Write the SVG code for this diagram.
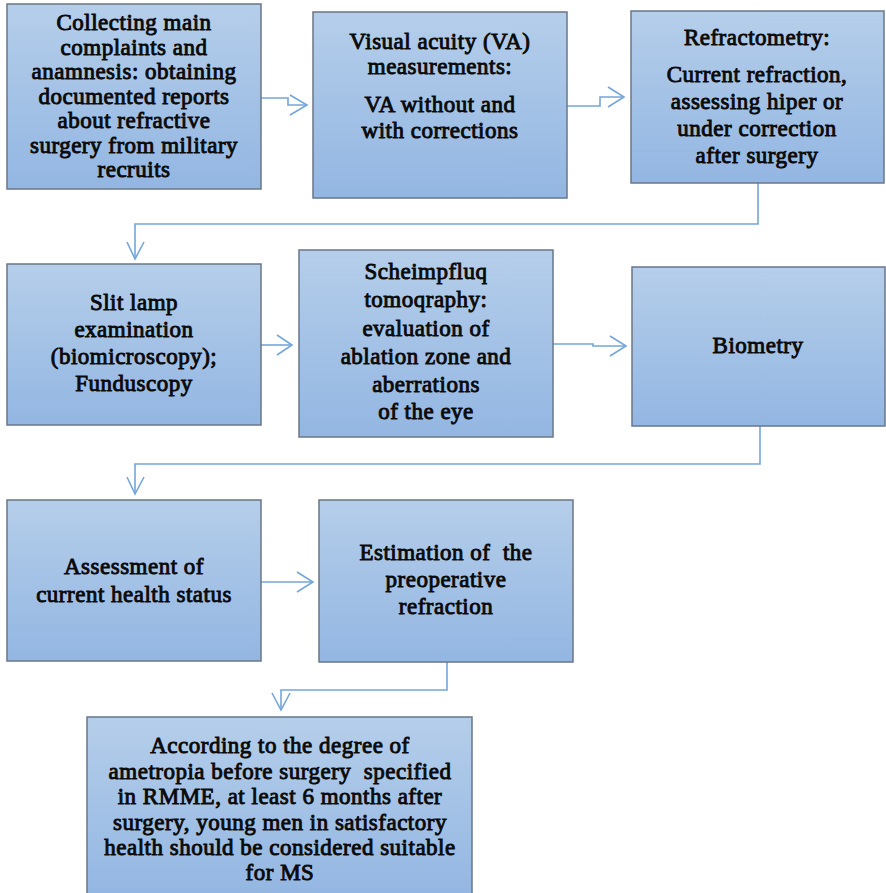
<svg xmlns="http://www.w3.org/2000/svg" width="886" height="893" viewBox="0 0 886 893">
<defs>
<linearGradient id="g" x1="0" y1="0" x2="0" y2="1">
<stop offset="0" stop-color="#b5ceea"/>
<stop offset="1" stop-color="#93b6e2"/>
</linearGradient>
<style>
.box{fill:url(#g);stroke:#6a7788;stroke-width:1.5}
.t{font-family:'Liberation Serif',serif;font-weight:400;font-size:23px;letter-spacing:0.5px;fill:#0a0a0a;stroke:#0a0a0a;stroke-width:0.9;text-anchor:middle;white-space:pre}
.c{fill:none;stroke:#74a6db;stroke-width:1.6}
</style>
</defs>
<rect width="886" height="893" fill="#fff"/>
<g id="connectors">
<polyline class="c" points="261,98 288,98 288,105 306,105"/>
<polyline class="c" points="290,95 307,105 290,115"/>
<polyline class="c" points="567,106 600,106 600,97 623,97"/>
<polyline class="c" points="608,87 624,97 608,107"/>
<polyline class="c" points="758,182 758,224 135,224 135,258"/>
<polyline class="c" points="127,242 135,259 144,242"/>
<polyline class="c" points="261,345 291,345"/>
<polyline class="c" points="277,335 292,345 277,355"/>
<polyline class="c" points="553,344 593,344 593,346 625,346"/>
<polyline class="c" points="610,336 626,346 610,356"/>
<polyline class="c" points="760,426 760,464 135,464 135,493"/>
<polyline class="c" points="127,477 135,494 144,477"/>
<polyline class="c" points="261,582 312,582"/>
<polyline class="c" points="297,572 313,582 297,592"/>
<polyline class="c" points="447,662 447,690 281,690 281,709"/>
<polyline class="c" points="272,693 281,710 290,693"/>
</g>
<g id="n1">
<rect class="box" x="7" y="4" width="254" height="185"/>
<text class="t" x="134" y="30">Collecting main</text>
<text class="t" x="134" y="54.5">complaints and</text>
<text class="t" x="134" y="79">anamnesis: obtaining</text>
<text class="t" x="134" y="103.5">documented reports</text>
<text class="t" x="134" y="128">about refractive</text>
<text class="t" x="134" y="152.5">surgery from military</text>
<text class="t" x="134" y="177">recruits</text>
</g>
<g id="n2">
<rect class="box" x="313" y="12" width="254" height="186"/>
<text class="t" x="440" y="49">Visual acuity (VA)</text>
<text class="t" x="440" y="74">measurements:</text>
<text class="t" x="440" y="112">VA without and</text>
<text class="t" x="440" y="138">with corrections</text>
</g>
<g id="n3">
<rect class="box" x="631" y="11" width="253" height="172"/>
<text class="t" x="757" y="45">Refractometry:</text>
<text class="t" x="757" y="82">Current refraction,</text>
<text class="t" x="757" y="109">assessing hiper or</text>
<text class="t" x="757" y="136">under correction</text>
<text class="t" x="757" y="163">after surgery</text>
</g>
<g id="n4">
<rect class="box" x="7" y="264" width="254" height="161"/>
<text class="t" x="134" y="310">Slit lamp</text>
<text class="t" x="134" y="337">examination</text>
<text class="t" x="134" y="364">(biomicroscopy);</text>
<text class="t" x="134" y="391">Funduscopy</text>
</g>
<g id="n5">
<rect class="box" x="299" y="250" width="254" height="187"/>
<text class="t" x="426" y="279">Scheimpfluq</text>
<text class="t" x="426" y="307">tomoqraphy:</text>
<text class="t" x="426" y="336">evaluation of</text>
<text class="t" x="426" y="364">ablation zone and</text>
<text class="t" x="426" y="392">aberrations</text>
<text class="t" x="426" y="419">of the eye</text>
</g>
<g id="n6">
<rect class="box" x="632" y="267" width="253" height="159"/>
<text class="t" x="758" y="353">Biometry</text>
</g>
<g id="n7">
<rect class="box" x="7" y="500" width="254" height="161"/>
<text class="t" x="134" y="574">Assessment of</text>
<text class="t" x="134" y="602">current health status</text>
</g>
<g id="n8">
<rect class="box" x="319" y="500" width="254" height="162"/>
<text class="t" x="446" y="560">Estimation of  the</text>
<text class="t" x="446" y="587">preoperative</text>
<text class="t" x="446" y="614">refraction</text>
</g>
<g id="n9">
<rect class="box" x="87" y="717" width="385" height="180"/>
<text class="t" x="280" y="753">According to the degree of</text>
<text class="t" x="280" y="779">ametropia before surgery  specified</text>
<text class="t" x="280" y="804">in RMME, at least 6 months after</text>
<text class="t" x="280" y="830">surgery, young men in satisfactory</text>
<text class="t" x="280" y="855">health should be considered suitable</text>
<text class="t" x="280" y="880">for MS</text>
</g>
</svg>
